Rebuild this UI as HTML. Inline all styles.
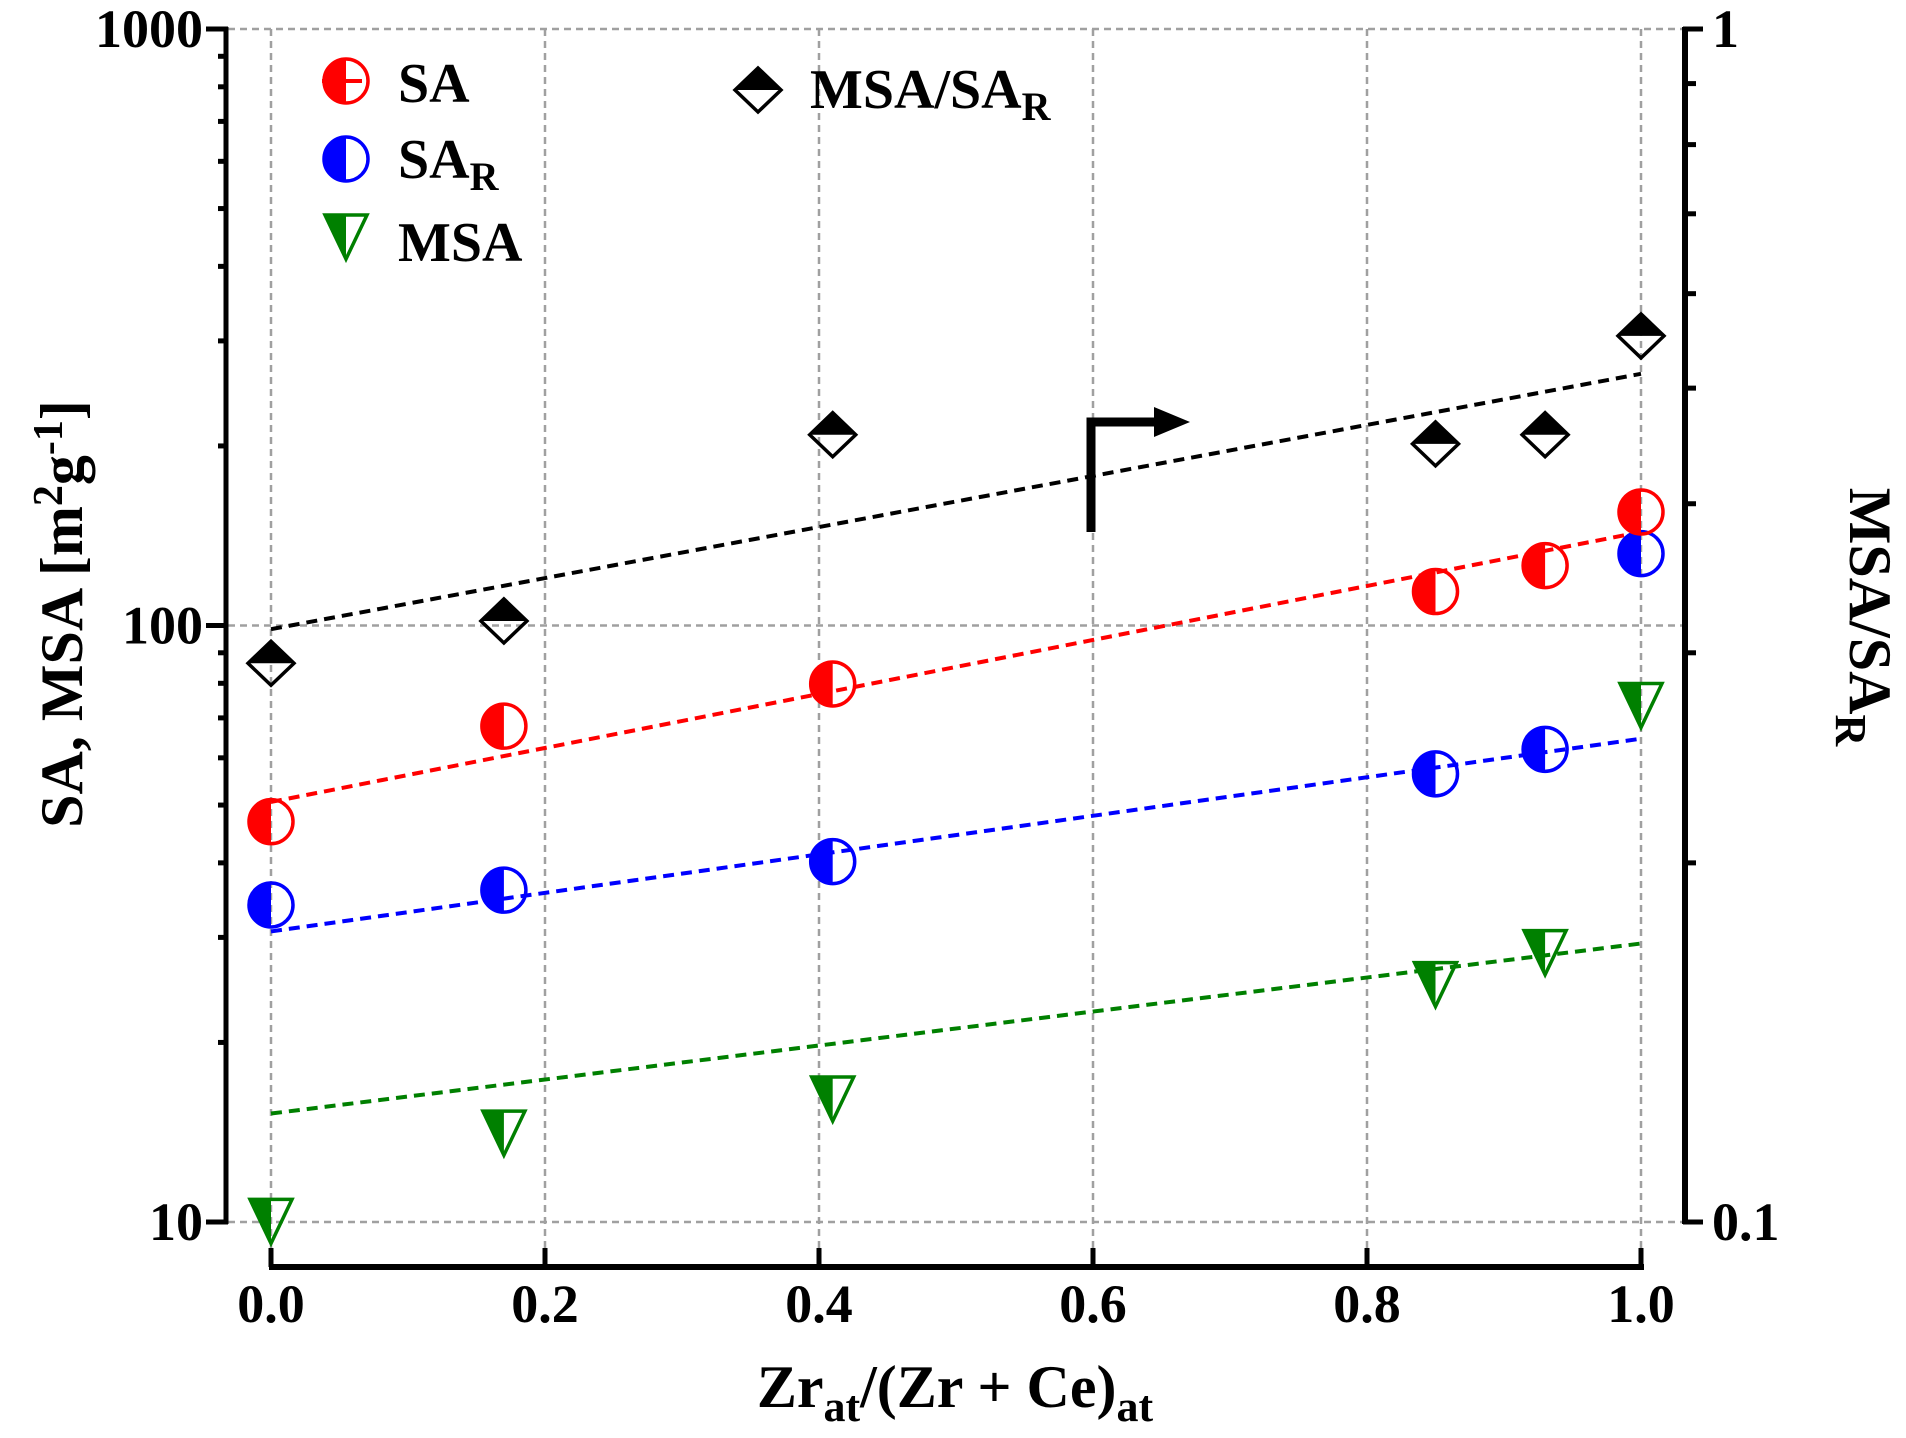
<!DOCTYPE html>
<html><head><meta charset="utf-8"><style>
html,body{margin:0;padding:0;background:#fff;width:1906px;height:1438px;overflow:hidden}
svg{display:block}
text{font-family:"Liberation Serif",serif;font-weight:bold;fill:#000}
</style></head><body>
<svg id="chart" width="1906" height="1438" viewBox="0 0 1906 1438" xmlns="http://www.w3.org/2000/svg"></svg>
<script>
const xVals = [0, 0.17, 0.41, 0.85, 0.93, 1.0];
const saVals = [46.9, 67.8, 79.8, 114, 126, 155];
const sarVals = [34, 36, 40.2, 56.4, 62, 132];
const msaVals = [10.1, 14.2, 16.2, 25.2, 28.5, 74];
const ratioVals = [0.294, 0.319, 0.457, 0.449, 0.457, 0.553];
const fitX = [0, 1];
const saFit = [50.6, 143.5];
const sarFit = [30.7, 64.6];
const msaFit = [15.2, 29.3];
const ratioFit = [0.314, 0.514];
const xTicks = [0, 0.2, 0.4, 0.6, 0.8, 1.0];
const xTickLabels = ["0.0","0.2","0.4","0.6","0.8","1.0"];
const yTicks = [10, 100, 1000];
const yTickLabels = ["10","100","1000"];
const y2Ticks = [0.1, 1];
const y2TickLabels = ["0.1","1"];

const NS="http://www.w3.org/2000/svg";
const svg=document.getElementById('chart');
const X0=271, X1=1641, YT=29, YB=1222;
const xs=v=>X0+(X1-X0)*v;
const ys=v=>YT+(3-Math.log10(v))*(YB-YT)/2;
const y2s=v=>YT+(0-Math.log10(v))*(YB-YT);
function mk(tag,attrs,parent){const e=document.createElementNS(NS,tag);for(const k in attrs)e.setAttribute(k,attrs[k]);(parent||svg).appendChild(e);return e;}

// grid
const grid=mk('g',{});


xTicks.forEach(t=>{const l=mk('line',{x1:xs(t),x2:xs(t),y1:YT,y2:YB+45,stroke:'#a0a0a0','stroke-width':2.5,'stroke-dasharray':'7,5'},grid);

});
yTicks.forEach(t=>{const l=mk('line',{x1:228,x2:1683,y1:ys(t),y2:ys(t),stroke:'#a0a0a0','stroke-width':2.5,'stroke-dasharray':'7,5'},grid);

});

// axes
const ax=mk('g',{});


mk('line',{x1:226,x2:226,y1:YT-2,y2:YB+2,stroke:'#000','stroke-width':5},ax);
yTicks.forEach((t,i)=>{mk('line',{x1:206,x2:228,y1:ys(t),y2:ys(t),stroke:'#000','stroke-width':5},ax);
const tx=mk('text',{x:203,y:ys(t)+18,'text-anchor':'end','font-size':54},ax);tx.textContent=yTickLabels[i];

});
for(let d=10;d<1000;d*=10)for(let m=2;m<=9;m++){mk('line',{x1:218,x2:228,y1:ys(d*m),y2:ys(d*m),stroke:'#000','stroke-width':5},ax);}
mk('line',{x1:X0-2,x2:X1+3,y1:1267,y2:1267,stroke:'#000','stroke-width':6},ax);
xTicks.forEach((t,i)=>{mk('line',{x1:xs(t),x2:xs(t),y1:1248,y2:1267,stroke:'#000','stroke-width':5},ax);
const tx=mk('text',{x:xs(t),y:1322,'text-anchor':'middle','font-size':54},ax);tx.textContent=xTickLabels[i];

});
mk('line',{x1:1685,x2:1685,y1:YT-2,y2:YB+2,stroke:'#000','stroke-width':6},ax);
y2Ticks.forEach((t,i)=>{mk('line',{x1:1683,x2:1703,y1:y2s(t),y2:y2s(t),stroke:'#000','stroke-width':5},ax);
const tx=mk('text',{x:1712,y:y2s(t)+18,'text-anchor':'start','font-size':54},ax);tx.textContent=y2TickLabels[i];

});
for(let m=2;m<=9;m++){mk('line',{x1:1683,x2:1696,y1:y2s(m/10),y2:y2s(m/10),stroke:'#000','stroke-width':5},ax);}

// fit lines
function fit(vals,scale,color,name){const l=mk('line',{x1:xs(fitX[0]),y1:scale(vals[0]),x2:xs(fitX[1]),y2:scale(vals[1]),stroke:color,'stroke-width':4,'stroke-dasharray':'11,7'});

}
fit(ratioFit,y2s,'#000','ratio-fit-line');
fit(saFit,ys,'#ff0000','sa-fit-line');
fit(sarFit,ys,'#0000ff','sar-fit-line');
fit(msaFit,ys,'#008000','msa-fit-line');

// markers
function circ(g,cx,cy,c){const r=22;
mk('path',{d:`M${cx},${cy-r} A${r},${r} 0 0 0 ${cx},${cy+r} Z`,fill:c},g);
mk('circle',{cx:cx,cy:cy,r:r,fill:'none',stroke:c,'stroke-width':3.5},g);}
function tri(g,cx,cy,c){const h=20,w=21;
mk('path',{d:`M${cx-w},${cy-h} L${cx},${cy-h} L${cx},${cy+h+4} Z`,fill:c},g);
mk('path',{d:`M${cx-w},${cy-h} L${cx+w},${cy-h} L${cx},${cy+h+4} Z`,fill:'none',stroke:c,'stroke-width':3.5,'stroke-linejoin':'miter'},g);}
function dia(g,cx,cy){const w=23,h=22;
mk('path',{d:`M${cx-w},${cy} L${cx},${cy-h} L${cx+w},${cy} Z`,fill:'#000'},g);
mk('path',{d:`M${cx-w},${cy} L${cx},${cy-h} L${cx+w},${cy} L${cx},${cy+h} Z`,fill:'none',stroke:'#000','stroke-width':3.5},g);}
function series(vals,scale,fn,color,name){const g=mk('g',{});


xVals.forEach((x,i)=>{const p=mk('g',{},g);


fn(p,xs(x),scale(vals[i]),color);});}
series(ratioVals,y2s,dia,'#000','ratio-series');
series(msaVals,ys,tri,'#008000','msa-series');
series(sarVals,ys,circ,'#0000ff','sar-series');
series(saVals,ys,circ,'#ff0000','sa-series');

// legend
const lg=mk('g',{});


circ(lg,346,81,'#ff0000');
mk('line',{x1:322,x2:362,y1:81,y2:81,stroke:'#ff0000','stroke-width':4},lg);
circ(lg,346,159,'#0000ff');
tri(lg,346,235,'#008000');
dia(lg,758,90);
</script>
<svg style="position:absolute;left:0;top:0" width="1906" height="1438" xmlns="http://www.w3.org/2000/svg">
<g font-family="Liberation Serif, serif" font-weight="bold" font-size="56">
<text x="398" y="102">SA</text>
<text x="398" y="178">SA<tspan font-size="40" dy="12">R</tspan></text>
<text x="398" y="261">MSA</text>
<text x="810" y="108">MSA/SA<tspan font-size="40" dy="12">R</tspan></text>
</g>
<g>
<polyline points="1091,532 1091,422 1158,422" fill="none" stroke="#000" stroke-width="9"/>
<polygon points="1154,407 1190,422 1154,437" fill="#000"/>
</g>
<text x="955" y="1407" text-anchor="middle" font-family="Liberation Serif, serif" font-weight="bold" font-size="60">Zr<tspan font-size="44" dy="14">at</tspan><tspan dy="-14">/(Zr + Ce)</tspan><tspan font-size="44" dy="14">at</tspan></text>
<text transform="translate(82,614) rotate(-90)" text-anchor="middle" font-family="Liberation Serif, serif" font-weight="bold" font-size="60">SA, MSA [m<tspan font-size="42" dy="-20">2</tspan><tspan dy="20">g</tspan><tspan font-size="42" dy="-20">-1</tspan><tspan dy="20">]</tspan></text>
<text transform="translate(1850,617) rotate(90)" text-anchor="middle" font-family="Liberation Serif, serif" font-weight="bold" font-size="60">MSA/SA<tspan font-size="44" dy="14">R</tspan></text>
</svg>
</body></html>
